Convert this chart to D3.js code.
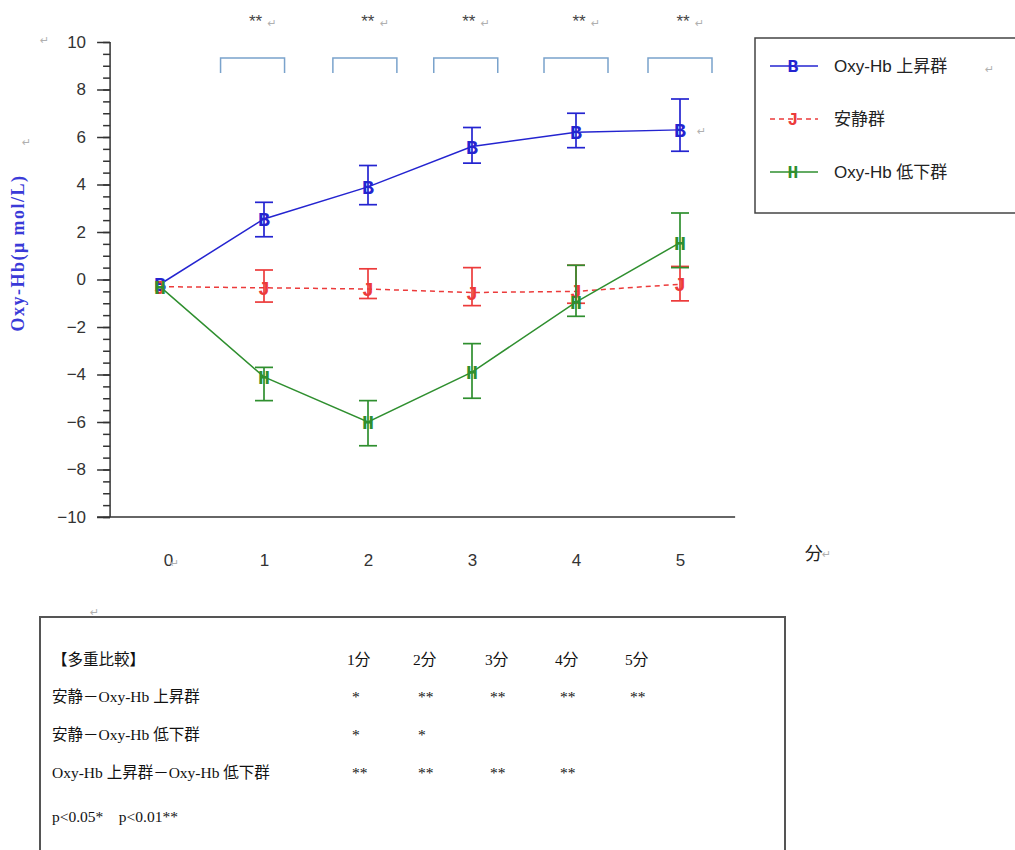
<!DOCTYPE html>
<html>
<head>
<meta charset="utf-8">
<script src="https://cdn.jsdelivr.net/npm/d3@7"></script>
<style>
  body { margin: 0; background: #fff; }
  svg { display: block; }
  .tick text { font-family: "Liberation Sans", Arial, sans-serif; font-size: 17px; fill: #333; }
  .ret { fill: #b0b0b0; font-size: 11px; font-family: "DejaVu Sans", sans-serif; }
</style>
</head>
<body>
<svg width="1015" height="850"></svg>
<script>
// data
const minutes = [0, 1, 2, 3, 4, 5];

const upMean = [-0.2, 2.55, 3.9, 5.6, 6.2, 6.3];
const upHi   = [-0.2, 3.25, 4.8, 6.4, 7.0, 7.6];
const upLo   = [-0.2, 1.8, 3.15, 4.9, 5.55, 5.4];

const restMean = [-0.3, -0.35, -0.4, -0.55, -0.5, -0.2];
const restHi   = [-0.3, 0.4, 0.45, 0.5, 0.6, 0.55];
const restLo   = [-0.3, -0.95, -0.8, -1.1, -1.0, -0.9];

const downMean = [-0.3, -4.1, -6.0, -3.9, -0.95, 1.55];
const downHi   = [-0.3, -3.7, -5.1, -2.7, 0.6, 2.8];
const downLo   = [-0.3, -5.1, -7.0, -5.0, -1.55, 0.5];

const yTicks = [-10, -8, -6, -4, -2, 0, 2, 4, 6, 8, 10];
const xTickLabels = ["0", "1", "2", "3", "4", "5"];

// significance brackets over the chart (centre in minutes)
const bracketAt = [0.89, 1.97, 2.94, 4.0, 5.0];
const bracketStars = ["**", "**", "**", "**", "**"];

// table of multiple comparison
const tableHeader = ["1分", "2分", "3分", "4分", "5分"];
const tableRows = [
  { label: "安静－Oxy-Hb 上昇群", marks: ["*", "**", "**", "**", "**"] },
  { label: "安静－Oxy-Hb 低下群", marks: ["*", "*", "", "", ""] },
  { label: "Oxy-Hb 上昇群－Oxy-Hb 低下群", marks: ["**", "**", "**", "**", ""] }
];

const series = [
  { name: "Oxy-Hb 上昇群", mark: "B", color: "#2424d0", dash: null, mean: upMean, hi: upHi, lo: upLo },
  { name: "安静群", mark: "J", color: "#ec3b3b", dash: "5,4", mean: restMean, hi: restHi, lo: restLo },
  { name: "Oxy-Hb 低下群", mark: "H", color: "#2f8f2f", dash: null, mean: downMean, hi: downHi, lo: downLo }
];

const svg = d3.select("svg");

// scales
const x = d3.scaleLinear().domain([0, 5]).range([160, 680]);
const y = d3.scaleLinear().domain([-10, 10]).range([517, 42]);
const axisX = x(-0.48);

// y axis (major + minor)
svg.append("g")
  .attr("transform", `translate(${axisX},0)`)
  .call(d3.axisLeft(y).tickValues(d3.range(-10, 10.01, 0.5)).tickSize(7).tickFormat(""))
  .call(g => g.select(".domain").remove())
  .call(g => g.selectAll("line").attr("stroke", "#333").attr("stroke-width", 1.5));

svg.append("g")
  .attr("transform", `translate(${axisX},0)`)
  .call(d3.axisLeft(y).tickValues(yTicks).tickSize(13).tickPadding(11).tickFormat(d3.format("d")))
  .call(g => g.select(".domain").attr("stroke", "#333").attr("stroke-width", 1.5).attr("d", `M0,${y(10)}V${y(-10)}`))
  .call(g => g.selectAll("line").attr("stroke", "#333").attr("stroke-width", 1.5))
  .call(g => g.selectAll(".tick text").text(d => d < 0 ? "\u2212" + Math.abs(d) : d));

// x axis
svg.append("line")
  .attr("x1", axisX - 13).attr("x2", x(5.53))
  .attr("y1", y(-10)).attr("y2", y(-10))
  .attr("stroke", "#333").attr("stroke-width", 1.5);

svg.append("g")
  .attr("transform", `translate(0,${y(-10) + 34})`)
  .call(d3.axisBottom(x).tickValues(minutes).tickSize(0).tickFormat((d, i) => xTickLabels[i]))
  .call(g => g.select(".domain").remove())
  .call(g => g.select(".tick text").attr("dx", 8));

svg.append("text")
  .attr("x", x(6.2)).attr("y", y(-10) + 43)
  .attr("font-family", "'Noto Sans CJK JP', sans-serif").attr("font-size", 18).attr("fill", "#222")
  .text("分");

// y label
svg.append("text")
  .attr("transform", `translate(24,253) rotate(-90)`)
  .attr("text-anchor", "middle")
  .attr("font-family", "'Liberation Serif', serif").attr("font-weight", "bold")
  .attr("font-size", 18).attr("letter-spacing", 1.5).attr("fill", "#3a3ad8")
  .text("Oxy-Hb(μ mol/L)");

// lines
const line = d3.line().x((d, i) => x(minutes[i])).y(d => y(d));
series.forEach(s => {
  svg.append("path")
    .datum(s.mean)
    .attr("d", line)
    .attr("fill", "none")
    .attr("stroke", s.color)
    .attr("stroke-width", 1.5)
    .attr("stroke-dasharray", s.dash);
});

// error bars and markers
series.forEach(s => {
  const g = svg.append("g").attr("stroke", s.color).attr("stroke-width", 1.7);
  minutes.forEach((m, i) => {
    if (s.hi[i] === s.lo[i]) return;
    const cx = x(m);
    g.append("line").attr("x1", cx).attr("x2", cx).attr("y1", y(s.hi[i])).attr("y2", y(s.lo[i]));
    g.append("line").attr("x1", cx - 9).attr("x2", cx + 9).attr("y1", y(s.hi[i])).attr("y2", y(s.hi[i]));
    g.append("line").attr("x1", cx - 9).attr("x2", cx + 9).attr("y1", y(s.lo[i])).attr("y2", y(s.lo[i]));
  });
  svg.append("g").selectAll("text")
    .data(s.mean)
    .enter()
    .append("text")
    .attr("x", (d, i) => x(minutes[i]))
    .attr("y", d => y(d) + 7)
    .attr("text-anchor", "middle")
    .attr("font-family", "'Liberation Mono', monospace")
    .attr("font-weight", "bold")
    .attr("font-size", 20)
    .attr("fill", s.color)
    .text(s.mark);
});

// brackets and stars
const bw = 32;
bracketAt.forEach((b, i) => {
  const cx = x(b);
  svg.append("path")
    .attr("d", `M${cx - bw},${73}V${58}H${cx + bw}V${73}`)
    .attr("fill", "none").attr("stroke", "#7aa3cc").attr("stroke-width", 1.5);
  svg.append("text")
    .attr("x", cx + 3).attr("y", 27)
    .attr("text-anchor", "middle")
    .attr("font-family", "'Liberation Sans', sans-serif").attr("font-size", 17).attr("fill", "#444")
    .text(bracketStars[i]);
  svg.append("text").attr("class", "ret").attr("x", cx + 15).attr("y", 27).text("↵");
});

// legend
const legend = svg.append("g");
legend.append("rect")
  .attr("x", 755).attr("y", 38).attr("width", 270).attr("height", 175)
  .attr("fill", "#fff").attr("stroke", "#444").attr("stroke-width", 1.5);
series.forEach((s, i) => {
  const ly = 66 + i * 53;
  legend.append("line")
    .attr("x1", 770).attr("x2", 818).attr("y1", ly).attr("y2", ly)
    .attr("stroke", s.color).attr("stroke-width", 1.5).attr("stroke-dasharray", s.dash);
  legend.append("text")
    .attr("x", 793).attr("y", ly + 6).attr("text-anchor", "middle")
    .attr("font-family", "'Liberation Mono', monospace").attr("font-weight", "bold").attr("font-size", 18)
    .attr("fill", s.color).text(s.mark);
  legend.append("text")
    .attr("x", 834).attr("y", ly + 6)
    .attr("font-family", "'Liberation Sans', 'Noto Sans CJK JP', sans-serif")
    .attr("font-size", 17).attr("fill", "#222")
    .text(s.name);
});

// paragraph marks
[[40, 44], [22, 146], [170, 567], [822, 558], [90, 616], [697, 135], [985, 73]]
  .forEach(p => svg.append("text").attr("class", "ret").attr("x", p[0]).attr("y", p[1]).text("↵"));

// comparison table
const tbl = svg.append("g")
  .attr("font-family", "'Liberation Serif', 'Noto Sans CJK JP', serif")
  .attr("font-size", 15.5).attr("fill", "#111");
tbl.append("rect")
  .attr("x", 40).attr("y", 617).attr("width", 745).attr("height", 260)
  .attr("fill", "none").attr("stroke", "#555").attr("stroke-width", 2);

const colX = [347, 413, 485, 555, 625];
const rowY = [665, 702, 740, 778];
tbl.append("text").attr("x", 52).attr("y", rowY[0]).text("【多重比較】");
tableHeader.forEach((h, i) => tbl.append("text").attr("x", colX[i]).attr("y", rowY[0]).text(h));
tableRows.forEach((r, j) => {
  tbl.append("text").attr("x", 52).attr("y", rowY[j + 1]).text(r.label);
  r.marks.forEach((m, i) => {
    tbl.append("text").attr("x", colX[i] + 5).attr("y", rowY[j + 1]).text(m);
  });
});
tbl.append("text").attr("x", 52).attr("y", 822).text("p<0.05*　p<0.01**");
</script>
</body>
</html>
